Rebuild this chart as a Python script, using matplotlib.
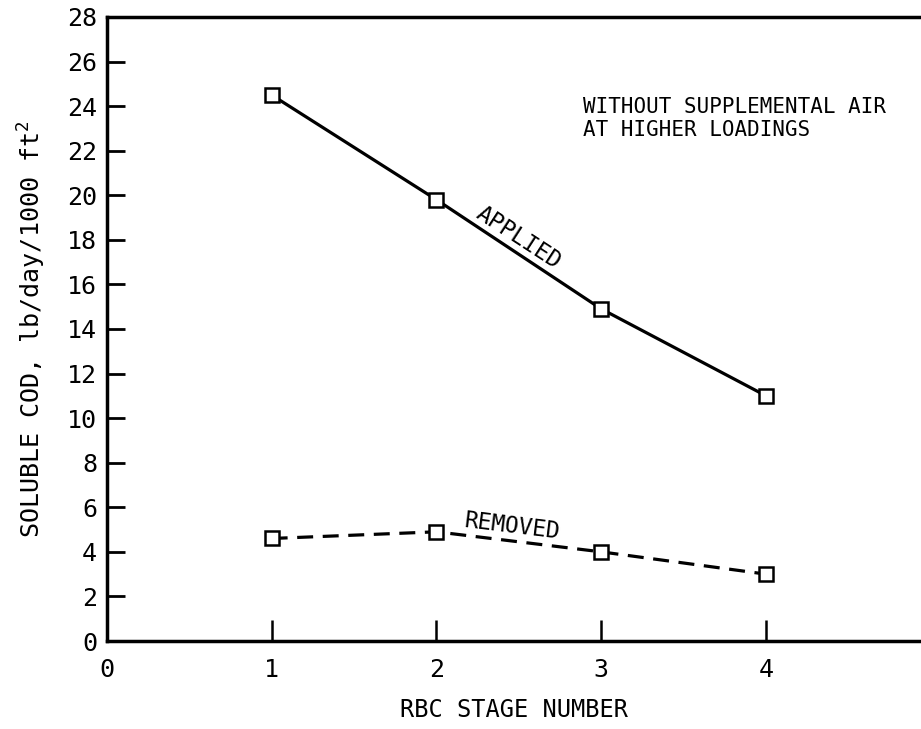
import numpy as np
import matplotlib
matplotlib.use("Agg")
import matplotlib.pyplot as plt

plt.rcParams["font.family"] = ["DejaVu Sans Mono"]
plt.rcParams["mathtext.default"] = "regular"

stages = [1, 2, 3, 4]
applied = [24.5, 19.8, 14.9, 11.0]
removed = [4.6, 4.9, 4.0, 3.0]

xticks = [0, 1, 2, 3, 4]
yticks = list(range(0, 29, 2))

fig = plt.figure(figsize=(9.21, 7.29), dpi=100)
ax = fig.add_axes([0.116, 0.1207, 0.884, 0.856])

mk = dict(marker="s", markersize=10.5, markerfacecolor="white",
          markeredgecolor="black", markeredgewidth=1.8)
ax.plot(stages, applied, color="black", lw=2.3, **mk)
ax.plot(stages, removed, color="black", lw=2.3, dashes=(5, 3), **mk)

ax.set_xlim(0, 4.94)
ax.set_ylim(0, 28)
ax.set_xticks(xticks)
ax.set_yticks(yticks)

for s in ["left", "bottom", "top"]:
    ax.spines[s].set_linewidth(2.5)
ax.spines["right"].set_visible(False)

ax.tick_params(axis="y", direction="in", length=13, width=2, pad=7, labelsize=18)
ax.tick_params(axis="x", direction="in", length=15, width=1.8, pad=12, labelsize=18)

ax.set_xlabel("RBC STAGE NUMBER", fontsize=17, labelpad=12)
ax.set_ylabel("SOLUBLE COD, lb/day/1000 ft$^2$", fontsize=18, labelpad=14)

# curve labels
ax.text(2.5, 18.1, "APPLIED", fontsize=16.5, rotation=-33,
        ha="center", va="center")
ax.text(2.46, 5.15, "REMOVED", fontsize=16.5, rotation=-7,
        ha="center", va="center")

ax.text(2.89, 24.4, "WITHOUT SUPPLEMENTAL AIR\nAT HIGHER LOADINGS",
        fontsize=15, ha="left", va="top", linespacing=1.2)

fig.savefig("out.png", dpi=100)
